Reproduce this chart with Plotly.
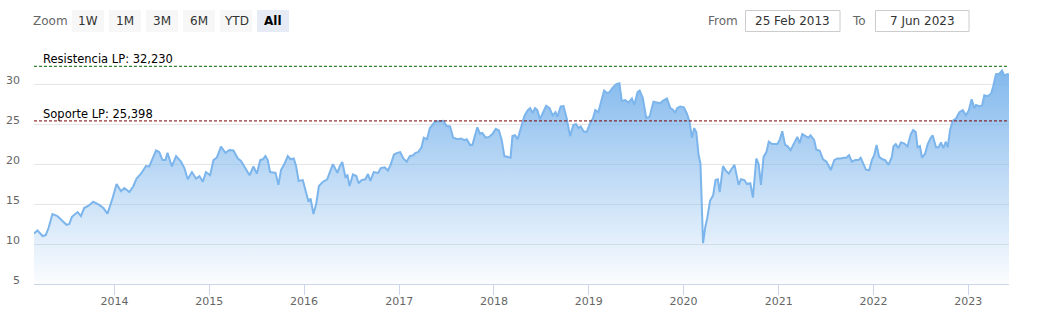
import plotly.graph_objects as go

# ---------------- data ----------------
dates = [
    "2013-02-25", "2013-03-10", "2013-03-30", "2013-04-11", "2013-04-22", "2013-05-07", "2013-05-26",
    "2013-06-15", "2013-06-30", "2013-07-11", "2013-07-21", "2013-08-12", "2013-08-25", "2013-09-06",
    "2013-09-23", "2013-10-11", "2013-11-03", "2013-11-19", "2013-12-05", "2013-12-24",
    "2014-01-09", "2014-01-26", "2014-02-08", "2014-02-27", "2014-03-14", "2014-03-27", "2014-04-13",
    "2014-05-02", "2014-05-15", "2014-05-28", "2014-06-10", "2014-06-22", "2014-07-05", "2014-07-16",
    "2014-07-24", "2014-08-10", "2014-08-26", "2014-09-14", "2014-09-27", "2014-10-10", "2014-10-26",
    "2014-11-11", "2014-11-24", "2014-12-07", "2014-12-19",
    "2015-01-04", "2015-01-17", "2015-01-30", "2015-02-15", "2015-03-04", "2015-03-19", "2015-04-04",
    "2015-04-21", "2015-05-03", "2015-05-20", "2015-06-05", "2015-06-20", "2015-07-03", "2015-07-16",
    "2015-07-26", "2015-08-05", "2015-08-14", "2015-08-23", "2015-09-13", "2015-09-24", "2015-10-04",
    "2015-10-17", "2015-10-30", "2015-11-10", "2015-11-22", "2015-12-01", "2015-12-11", "2015-12-27",
    "2016-01-09", "2016-01-18", "2016-01-26", "2016-02-06", "2016-02-17", "2016-02-27", "2016-03-14",
    "2016-03-30", "2016-04-08", "2016-04-21", "2016-05-08", "2016-05-17", "2016-05-27", "2016-06-08",
    "2016-06-16", "2016-06-24", "2016-07-07", "2016-07-20", "2016-07-29", "2016-08-09", "2016-08-24",
    "2016-09-03", "2016-09-12", "2016-09-25", "2016-10-12", "2016-10-22", "2016-11-06", "2016-11-19",
    "2016-11-29", "2016-12-12", "2016-12-25",
    "2017-01-05", "2017-01-17", "2017-01-30", "2017-02-11", "2017-02-24", "2017-03-05", "2017-03-15",
    "2017-03-28", "2017-04-06", "2017-04-18", "2017-04-29", "2017-05-19", "2017-06-07", "2017-06-20",
    "2017-07-03", "2017-07-16", "2017-07-28", "2017-08-14", "2017-08-27", "2017-09-09", "2017-09-18",
    "2017-10-01", "2017-10-10", "2017-10-20", "2017-10-29", "2017-11-08", "2017-11-17", "2017-11-30",
    "2017-12-13", "2017-12-26",
    "2018-01-08", "2018-01-20", "2018-01-31", "2018-02-10", "2018-02-26", "2018-03-06", "2018-03-13",
    "2018-03-23", "2018-04-02", "2018-04-15", "2018-04-28", "2018-05-10", "2018-05-20", "2018-05-30",
    "2018-06-08", "2018-06-17", "2018-06-27", "2018-07-08", "2018-07-21", "2018-08-03", "2018-08-15",
    "2018-08-26", "2018-09-02", "2018-09-15", "2018-09-26", "2018-10-08", "2018-10-21", "2018-11-03",
    "2018-11-13", "2018-11-22", "2018-12-01", "2018-12-12", "2018-12-24",
    "2019-01-06", "2019-01-17", "2019-01-26", "2019-02-07", "2019-02-20", "2019-03-01", "2019-03-12",
    "2019-03-22", "2019-04-04", "2019-04-17", "2019-04-29", "2019-05-08", "2019-05-21", "2019-06-03",
    "2019-06-16", "2019-06-25", "2019-07-08", "2019-07-16", "2019-07-28", "2019-08-10", "2019-08-23",
    "2019-09-07", "2019-09-20", "2019-10-03", "2019-10-13", "2019-10-29", "2019-11-11", "2019-11-21",
    "2019-11-30", "2019-12-07", "2019-12-19",
    "2020-01-02", "2020-01-14", "2020-01-24", "2020-02-02", "2020-02-11", "2020-02-19", "2020-02-28",
    "2020-03-06", "2020-03-16", "2020-03-25", "2020-04-01", "2020-04-12", "2020-04-24", "2020-05-03",
    "2020-05-12", "2020-05-19", "2020-06-01", "2020-06-10", "2020-06-23", "2020-07-02", "2020-07-15",
    "2020-07-31", "2020-08-09", "2020-08-22", "2020-09-01", "2020-09-14", "2020-09-24", "2020-10-07",
    "2020-10-16", "2020-10-25", "2020-11-04", "2020-11-15", "2020-11-24", "2020-12-07", "2020-12-27",
    "2021-01-05", "2021-01-15", "2021-01-26", "2021-02-04", "2021-02-16", "2021-03-01", "2021-03-14",
    "2021-03-23", "2021-04-02", "2021-04-15", "2021-04-26", "2021-05-04", "2021-05-18", "2021-05-26",
    "2021-06-08", "2021-06-21", "2021-07-04", "2021-07-21", "2021-08-03", "2021-08-15", "2021-08-28",
    "2021-09-10", "2021-09-19", "2021-09-29", "2021-10-10", "2021-10-23", "2021-11-04", "2021-11-13",
    "2021-11-22", "2021-12-03", "2021-12-16", "2021-12-26",
    "2022-01-04", "2022-01-13", "2022-01-23", "2022-02-05", "2022-02-15", "2022-02-28", "2022-03-13",
    "2022-03-19", "2022-03-28", "2022-04-07", "2022-04-17", "2022-04-29", "2022-05-12", "2022-05-25",
    "2022-06-03", "2022-06-13", "2022-06-20", "2022-06-29", "2022-07-07", "2022-07-19", "2022-07-28",
    "2022-08-08", "2022-08-17", "2022-08-30", "2022-09-09", "2022-09-18", "2022-09-27", "2022-10-07",
    "2022-10-14", "2022-10-23", "2022-11-02", "2022-11-15", "2022-11-28", "2022-12-11", "2022-12-23",
    "2023-01-03", "2023-01-14", "2023-01-25", "2023-01-31", "2023-02-13", "2023-02-23", "2023-03-04",
    "2023-03-17", "2023-03-30", "2023-04-07", "2023-04-18", "2023-05-01", "2023-05-11", "2023-05-20",
    "2023-06-02", "2023-06-07",
]

prices = [
    11.3, 11.7, 11.0, 11.1, 12.0, 13.75, 13.5,
    12.9, 12.4, 12.5, 13.4, 14.0, 13.5, 14.5,
    14.8, 15.3, 14.9, 14.5, 13.8, 15.7,
    17.5, 16.6, 17.0, 16.5, 17.2, 18.2, 18.8,
    19.75, 19.7, 20.7, 21.7, 21.5, 20.5, 20.5,
    21.4, 19.7, 21.0, 20.3, 19.5, 18.1, 19.0,
    18.2, 18.5, 17.8, 19.0,
    18.6, 20.5, 20.8, 22.2, 21.4, 21.75, 21.7,
    20.7, 20.4, 19.5, 18.6, 19.7, 18.8, 20.5,
    20.6, 21.0, 20.5, 19.0, 18.9, 17.4, 19.25,
    20.0, 21.0, 20.6, 20.7, 19.75, 17.9, 18.0,
    16.3, 15.3, 15.7, 13.75, 15.1, 17.25, 17.8,
    18.1, 18.9, 20.0, 18.9, 19.7, 20.25, 18.4,
    18.6, 17.25, 18.7, 18.5, 17.6, 18.0, 18.1,
    18.75, 17.9, 19.0, 18.9, 19.5, 19.6, 19.2,
    19.9, 21.2, 21.4,
    21.5, 20.7, 20.3, 21.0, 21.1, 21.4, 21.5,
    22.1, 23.3, 23.1, 24.5, 25.3, 25.4, 25.4,
    24.75, 24.7, 23.3, 23.1, 23.2, 23.0, 23.1,
    22.4, 22.4, 23.6, 24.6, 23.8, 23.9, 23.3,
    23.4, 23.75,
    24.4, 24.2, 23.0, 21.0, 20.8, 20.8, 23.5,
    23.6, 23.1, 24.7, 26.0, 26.7, 27.0, 26.4,
    27.0, 26.75, 25.6, 26.4, 27.3, 27.0, 26.1,
    26.5, 25.9, 27.2, 27.25, 25.7, 23.5, 24.9,
    25.0, 24.5, 24.7, 24.1, 24.0,
    25.1, 25.7, 26.75, 26.5, 28.1, 29.2, 28.9,
    29.0, 29.6, 30.0, 30.1, 27.9, 28.0, 27.7,
    28.2, 27.4, 29.0, 29.2, 28.3, 25.8, 25.9,
    27.8, 27.7, 27.6, 27.9, 28.2, 27.0, 26.8,
    26.4, 27.0, 27.2,
    27.1, 26.3, 25.3, 23.3, 24.5, 24.0, 21.1,
    20.1, 10.1, 12.2, 13.2, 15.4, 16.1, 18.0,
    18.1, 16.5, 19.75, 19.25, 18.8, 19.3, 19.9,
    17.4, 18.1, 18.0, 17.5, 17.6, 15.8, 20.7,
    20.0, 17.4, 20.9, 21.5, 22.8, 22.5, 22.5,
    23.0, 24.1, 22.4, 22.25, 21.75, 22.5, 23.4,
    22.6, 23.75, 23.5, 23.3, 23.6, 23.0, 21.8,
    21.7, 20.6, 20.3, 19.25, 20.5, 20.7, 20.7,
    20.8, 20.8, 21.1, 20.3, 20.5, 20.5, 20.8,
    20.1, 19.3, 19.25, 20.5,
    21.1, 22.4, 20.9, 20.6, 20.5, 19.9, 20.9,
    22.2, 22.5, 22.0, 22.7, 22.6, 22.2, 23.75,
    24.25, 24.0, 22.1, 22.25, 20.8, 21.3, 22.4,
    23.2, 23.6, 22.1, 22.1, 22.7, 22.0, 22.8,
    22.1, 24.25, 25.4, 25.7, 26.5, 26.75, 26.1,
    26.7, 28.1, 27.0, 27.4, 27.25, 27.3, 28.6,
    28.5, 28.8, 29.7, 31.25, 31.3, 31.7, 31.1,
    31.25, 31.2,
]

resistance_value = 32.230
support_value = 25.398
resistance_label = "Resistencia LP: 32,230"
support_label = "Soporte LP: 25,398"

y_ticks = [5, 10, 15, 20, 25, 30, 35]
y_tick_text = ["5", "10", "15", "20", "25", "30", ""]

range_buttons = ["1W", "1M", "3M", "6M", "YTD", "All"]
selected_button = "All"
from_text = "25 Feb 2013"
to_text = "7 Jun 2023"

FONT = "DejaVu Sans"
LINE_COLOR = "#7cb5ec"

# ---------------- figure ----------------
fig = go.Figure()
fig.add_trace(go.Scatter(
    x=dates, y=prices, mode="lines",
    line=dict(color=LINE_COLOR, width=2),
    fill="tozeroy",
    fillgradient=dict(
        type="vertical",
        start=5, stop=max(prices),
        colorscale=[[0, "rgba(124,181,236,0.03)"], [1, "rgba(124,181,236,0.95)"]],
    ),
    hoverinfo="skip",
    showlegend=False,
))

W, H = 1040, 327
L, R, T, B = 34, 31, 44, 43
pw, ph = W - L - R, H - T - B


def px_x(px):
    return (px - L) / pw


def px_y(py):
    return (H - B - py) / ph


shapes = []
annotations = []

# support / resistance lines
for val, col, lab in [(resistance_value, "#006400", resistance_label),
                      (support_value, "#7a0000", support_label)]:
    shapes.append(dict(type="line", xref="paper", yref="y", x0=0, x1=1, y0=val, y1=val,
                       line=dict(color=col, width=1, dash="3px,2px"), layer="above"))
    annotations.append(dict(xref="paper", yref="y", x=px_x(41), y=val, xanchor="left", yanchor="bottom",
                            text=lab, showarrow=False, yshift=-2,
                            font=dict(family=FONT, size=11.5, color="#000000")))

# range selector (static)
annotations.append(dict(xref="paper", yref="paper", x=px_x(31), y=px_y(21), xanchor="left", yanchor="middle",
                        text="Zoom", showarrow=False, font=dict(family=FONT, size=12, color="#666666")))
bx = 72
for lab in range_buttons:
    sel = lab == selected_button
    shapes.append(dict(type="rect", xref="paper", yref="paper",
                       x0=px_x(bx), x1=px_x(bx + 32), y0=px_y(32), y1=px_y(10),
                       fillcolor="#e6ebf5" if sel else "#f7f7f7", line=dict(width=0), layer="above"))
    annotations.append(dict(xref="paper", yref="paper", x=px_x(bx + 16), y=px_y(21), xanchor="center",
                            yanchor="middle", text=f"<b>{lab}</b>" if sel else lab, showarrow=False,
                            font=dict(family=FONT, size=12, color="#000000" if sel else "#333333")))
    bx += 37

annotations.append(dict(xref="paper", yref="paper", x=px_x(740), y=px_y(21), xanchor="right", yanchor="middle",
                        text="From", showarrow=False, font=dict(family=FONT, size=12, color="#666666")))
shapes.append(dict(type="rect", xref="paper", yref="paper", x0=px_x(745.5), x1=px_x(840), y0=px_y(31.5),
                   y1=px_y(10.5), fillcolor="white", line=dict(color="#cccccc", width=1), layer="above"))
annotations.append(dict(xref="paper", yref="paper", x=px_x(792.5), y=px_y(21), xanchor="center",
                        yanchor="middle", text=from_text, showarrow=False,
                        font=dict(family=FONT, size=12, color="#333333")))
annotations.append(dict(xref="paper", yref="paper", x=px_x(868), y=px_y(21), xanchor="right", yanchor="middle",
                        text="To", showarrow=False, font=dict(family=FONT, size=12, color="#666666")))
shapes.append(dict(type="rect", xref="paper", yref="paper", x0=px_x(875.5), x1=px_x(969), y0=px_y(31.5),
                   y1=px_y(10.5), fillcolor="white", line=dict(color="#cccccc", width=1), layer="above"))
annotations.append(dict(xref="paper", yref="paper", x=px_x(922), y=px_y(21), xanchor="center",
                        yanchor="middle", text=to_text, showarrow=False,
                        font=dict(family=FONT, size=12, color="#333333")))

fig.update_layout(
    width=W, height=H,
    margin=dict(l=L, r=R, t=T, b=B, pad=0, autoexpand=False),
    paper_bgcolor="white", plot_bgcolor="white",
    shapes=shapes, annotations=annotations,
    font=dict(family=FONT, size=11, color="#666666"),
    xaxis=dict(
        type="date", range=[dates[0], dates[-1]],
        tick0="2014-01-01", dtick="M12", tickformat="%Y",
        showgrid=False, zeroline=False, automargin=False,
        showline=True, linecolor="#ccd6eb", linewidth=1,
        ticks="outside", ticklen=10, tickcolor="#ccd6eb", tickwidth=1,
        ticklabelstandoff=-3,
        tickfont=dict(family=FONT, size=11, color="#666666"),
    ),
    yaxis=dict(
        range=[5, 35.02], tickvals=y_ticks, ticktext=y_tick_text,
        showgrid=True, gridcolor="#e6e6e6", gridwidth=1,
        zeroline=False, showline=False, ticks="", automargin=False,
        ticklabelshift=-4, ticklabelstandoff=13,
        tickfont=dict(family=FONT, size=11, color="#666666"),
    ),
)

fig.write_html("out.html")
